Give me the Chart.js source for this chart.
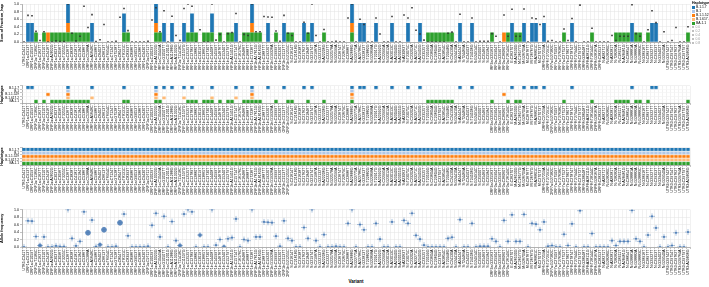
<!DOCTYPE html>
<html><head><meta charset="utf-8">
<script src="https://cdn.jsdelivr.net/npm/chart.js@4"></script>
<style>
body{margin:0;background:#fff;width:709px;height:287px;overflow:hidden;position:relative;font-family:"Liberation Sans",Arial,sans-serif}
.p{position:absolute;left:0}
#xt{position:absolute;left:22px;width:668px;top:279px;text-align:center;font-size:4.5px;font-weight:bold;color:#000}
#lg{position:absolute;left:692px;top:1px;font-size:3.4px;line-height:4px;color:#000}
#lg .t{font-weight:bold;font-size:3.6px}
#lg .r{white-space:nowrap}
#lg .s{display:inline-block;width:3px;height:3px;margin-right:1px;vertical-align:middle}
#lg .g{color:#999}
#lg .c{display:inline-block;width:2px;height:2px;border-radius:50%;background:#aaa;margin-right:1.5px;vertical-align:middle}
</style></head><body>
<div class="p" style="top:0"><canvas id="c1" width="709" height="70"></canvas></div>
<div class="p" style="top:83px"><canvas id="c2" width="709" height="52"></canvas></div>
<div class="p" style="top:145px"><canvas id="c3" width="709" height="50"></canvas></div>
<div class="p" style="top:205px"><canvas id="c4" width="709" height="72"></canvas></div>
<div id="xt">Variant</div>
<div id="lg"></div>
<script>
const variants = ("UTR5:C241T ORF1a:C913T ORF1a:C1059T ORF1a:T1189C ORF1a:C1627T ORF1a:C2110T ORF1a:C2416T ORF1a:A2832G ORF1a:C3037T ORF1a:C3096T " +
"ORF1a:T3255C ORF1a:C3267T ORF1a:C3828T ORF1a:C4181T ORF1a:C5184T ORF1a:C5386T ORF1a:C5388A ORF1a:A5648C ORF1a:C5986T ORF1a:C6402T " +
"ORF1a:C6613T ORF1a:T6954C ORF1a:C7124T ORF1a:G7528T ORF1a:C8047T ORF1a:T8131C ORF1a:C8393T ORF1a:C8986T ORF1a:G9053T ORF1a:C9286T " +
"ORF1a:C9430T ORF1a:C9711T ORF1a:C10029T ORF1a:A10323G ORF1a:C10449A ORF1a:G10507T ORF1a:C11201G ORF1a:A11288G ORF1a:A11332G ORF1a:T11418C " +
"ORF1a:C11537G ORF1a:C12525T ORF1a:C12789T ORF1a:C12880T ORF1a:C13019T ORF1b:C13665T ORF1b:C13730T ORF1b:C14408T ORF1b:C14599T ORF1b:C14676T " +
"ORF1b:C15240T ORF1b:C15279T ORF1b:A15451G ORF1b:C15714T ORF1b:T16176C ORF1b:C16466T ORF1b:C16887T ORF1b:C17236T ORF1b:A17615G ORF1b:A18163G " +
"ORF1b:C18877T ORF1b:C19220T ORF1b:G19326A ORF1b:C19999T ORF1b:C20320T ORF1b:C21137T ORF1b:G21255C S:C21614T S:C21618G S:C21638T " +
"S:C21762T S:C21846T S:G21974T S:C21987A S:G22132T S:A22206G S:C22227T S:G22578A S:G22599A S:C22674T " +
"S:T22679C S:C22686T S:A22688G S:G22775A S:A22786C S:G22813T S:T22882G S:G22898A S:T22917G S:A22992G " +
"S:C22995A S:G23012A S:A23013C S:A23040G S:A23055G S:A23063T S:T23075C S:C23202A S:A23271C S:A23403G " +
"S:C23525T S:T23599G S:C23604A S:C23604G S:C23709T S:A23854C S:T23948G S:C24130A S:G24410A S:A24424T " +
"S:T24469A S:C24503T S:T24506G S:G24914C S:C25000T S:C25469T S:C25584T ORF3a:G25563T ORF3a:C25904T ORF3a:G25907T " +
"ORF3a:C26060T ORF3a:T26149C E:C26270T M:A26530G M:C26577G M:G26709A M:C26767T M:T26767G M:A26801C M:C27073T " +
"ORF6:C27259A ORF6:T27291C ORF7a:G27382C ORF7a:C27509T ORF7a:T27638C ORF7a:C27752T ORF7b:C27807T ORF8:C27874T ORF8:T27944C ORF8:C27972T " +
"ORF8:G28048T ORF8:A28111G ORF8:T28144C ORF8:G28167A ORF8:C28253T N:A28271T N:G28280C N:A28281T N:T28282A N:C28311T " +
"N:A28461G N:C28854T N:G28881A N:G28882A N:G28883C N:G28916T N:C28977T N:G29227T N:C29353T N:G29402T " +
"N:G29540A UTR3:G29742T UTR3:C29754T UTR3:C29762T UTR3:G29764A UTR3:C29779T UTR3:A29836G").split(" ");

const haplotypes = ["B.1.1.7", "B.1", "B.1.1.529", "B.1.617.2", "BA.1.1"];
const hapCodes = ["B", "b", "O", "o", "G"];
const hapColors = ["#1f77b4", "#aec7e8", "#ff7f0e", "#ffbb78", "#2ca02c"];
const hapFraction = [0.5, 0, 0.25, 0, 0.25];

// haplotypes carrying each variant (codes above)
const membership = [
"","B","B","G","","G","O","G","G","G",
"G","BbOoG","G","G","G","G","G","Bo","","",
"","","","","","BG","G","","","",
"","","","BbOoG","G","Bo","","B","","",
"Bo","G","BG","G","","G","G","BGo","","G",
"","G","G","Bo","","G","G","BbOoG","G","G",
"","B","","G","","B","G","G","","",
"B","G","B","","","G","","","","",
"","","BbOoG","","B","B","","","B","",
"","","B","","","","B","","","B",
"","G","G","G","G","G","G","G","","B",
"","","B","","","","","G","","",
"O","G","B","G","G","B","","B","B","",
"B","","","","","G","","B","","",
"","","G","","","","","","G","G",
"G","G","B","G","G","","G","B","B","",
"","","","","","","G"];

const alleleFreq = [
0.00,0.70,0.69,0.28,0.04,0.27,0.00,0.00,0.03,0.01,
0.01,1.00,0.23,0.03,0.15,0.94,0.38,0.72,0.01,0.06,
0.46,0.00,0.00,0.02,0.65,0.88,0.30,0.00,0.00,0.00,
0.00,0.02,0.58,0.90,0.27,0.82,0.00,0.68,0.17,0.04,
0.88,1.00,0.94,0.00,0.32,0.00,0.00,1.00,0.05,0.20,
0.00,0.22,0.25,0.75,0.00,0.20,0.17,1.00,0.27,0.27,
0.67,0.66,0.65,0.29,0.02,0.70,0.23,0.17,0.00,0.00,
0.52,0.23,1.00,0.17,0.00,0.33,0.00,0.00,0.02,0.00,
0.00,0.63,1.00,0.00,0.60,0.46,0.00,0.00,0.63,0.21,
0.00,0.00,0.67,0.00,0.00,0.71,0.63,0.90,0.31,0.21,
0.05,0.00,0.00,0.00,0.00,0.00,0.23,0.26,0.00,0.73,
0.00,0.00,0.63,0.00,0.02,0.02,0.02,0.22,0.15,0.00,
0.71,0.15,0.86,0.15,0.15,0.87,0.00,0.63,0.61,0.46,
0.67,0.02,0.04,0.00,0.00,0.34,0.04,0.62,0.00,0.97,
0.00,0.00,0.36,0.00,0.00,0.00,0.00,0.17,0.04,0.15,
0.15,0.15,0.98,0.22,0.15,0.00,0.32,0.82,0.51,0.00,
0.27,0.00,0.04,0.38,0.00,0.00,0.40];

// relative read depth weight per variant (circle size in allele-frequency panel)
const depthWeight = [
1,1,1,1,2,1,1,1,1,1,
1,1,1,1,1,1,3,1,1,2,
3,1,1,1,3,1,1,1,1,1,
1,1,1,1,1,1,1,1,1,2,
1,1,1,1,2,1,1,1,1,1,
2,1,1,1,1,1,1,1,1,1,
1,1,1,1,1,1,1,1,1,1,
1,1,1,1,1,1,1,1,1,1,
1,1,1,1,1,1,1,1,1,1,
1,1,1,1,1,1,1,1,1,1,
1,1,1,1,1,1,1,1,1,1,
1,1,1,1,1,1,1,1,1,1,
1,1,1,1,1,1,1,1,1,1,
1,1,1,1,1,1,1,1,1,1,
1,1,1,1,1,1,1,1,1,1,
1,1,1,1,1,1,1,1,1,1,
1,1,1,1,1,1,1];

const legendSizes = ["0.0", "0.2", "0.4", "0.6", "0.8"];

Chart.defaults.font.family = '"Liberation Sans", Arial, sans-serif';
Chart.defaults.font.size = 3.6;
Chart.defaults.color = '#000';
Chart.defaults.animation = false;

const Y_W = 22, PAD_R = 19;
const fixW = s => { s.width = Y_W; };
const fixH = h => s => { s.height = h; };
const gridCol = '#e2e2e2';

function xAxis(h) {
  return {
    type: 'category', labels: variants, offset: true,
    grid: { color: gridCol, lineWidth: 0.5, offset: true, drawTicks: true, tickLength: 2, tickColor: '#888' },
    border: { color: '#888', width: 0.6 },
    ticks: { autoSkip: false, minRotation: 90, maxRotation: 90, padding: 0.5, font: { size: 3.6 } },
    afterFit: fixH(h)
  };
}
const baseOpts = {
  responsive: false, devicePixelRatio: 1, maintainAspectRatio: false,
  layout: { padding: { left: 0, right: PAD_R, top: 1, bottom: 0 } },
  plugins: { legend: { display: false }, tooltip: { enabled: false } }
};

// Panel 1: stacked fractions + observed frequency
const stackOrder = [4, 3, 2, 1, 0];
const ds1 = stackOrder.map(h => ({
  type: 'bar', label: haplotypes[h],
  data: membership.map(m => m.includes(hapCodes[h]) ? hapFraction[h] : 0),
  backgroundColor: hapColors[h], borderWidth: 0, order: 1,
  barPercentage: 0.92, categoryPercentage: 1, yAxisID: 'y', stack: 's'
}));
ds1.push({
  type: 'line', label: 'freq', data: alleleFreq, showLine: false, yAxisID: 'yp',
  pointStyle: 'rect', pointRadius: 1.1, pointBackgroundColor: '#333', pointBorderWidth: 0, order: 0
});
new Chart(document.getElementById('c1'), {
  type: 'bar',
  data: { labels: variants, datasets: ds1 },
  options: Object.assign({}, baseOpts, {
    scales: {
      x: Object.assign(xAxis(28), { stacked: true }),
      y: {
        stacked: true, min: 0, max: 1,
        ticks: { stepSize: 0.2, callback: v => v.toFixed(1), padding: 1 },
        grid: { color: gridCol, lineWidth: 0.5, tickLength: 2, tickColor: '#888' },
        border: { color: '#888', width: 0.6 },
        title: { display: true, text: 'Sum of Fraction_hap', font: { size: 3.8, weight: 'bold' }, padding: 0 },
        afterFit: fixW
      },
      yp: { display: false, min: 0, max: 1 }
    }
  })
});

// Heatmap panels
function heat(id, present, xh) {
  const ds = stackOrder.map(h => ({
    label: haplotypes[h],
    data: variants.map(() => 1),
    backgroundColor: membership.map((m, i) => present(m, h) ? hapColors[h] : 'rgba(0,0,0,0)'),
    borderWidth: 0, inflateAmount: 0,
    barPercentage: 0.84, categoryPercentage: 1
  }));
  new Chart(document.getElementById(id), {
    type: 'bar',
    data: { labels: variants, datasets: ds },
    options: Object.assign({}, baseOpts, {
      layout: { padding: { left: 0, right: PAD_R, top: 0, bottom: 0 } },
      scales: {
        x: Object.assign(xAxis(xh), { stacked: true }),
        y: { stacked: true, min: 0, max: 5, display: false },
        yc: {
          type: 'category', labels: haplotypes, position: 'left', offset: true,
          grid: { color: gridCol, lineWidth: 0.5, offset: true, tickLength: 2, tickColor: '#888' },
          border: { color: '#888', width: 0.6 },
          ticks: { padding: 1, autoSkip: false, font: { size: 3.2 } },
          title: { display: true, text: 'Haplotype', font: { size: 3.8, weight: 'bold' }, padding: 0 },
          afterFit: fixW
        }
      }
    }),
    plugins: [{
      id: 'rowGaps',
      afterDatasetsDraw(chart) {
        const { ctx, chartArea: a } = chart;
        ctx.save(); ctx.strokeStyle = '#ffffff'; ctx.lineWidth = 0.6;
        for (let r = 1; r < 5; r++) {
          const y = a.top + (a.bottom - a.top) * r / 5;
          ctx.beginPath(); ctx.moveTo(a.left, y); ctx.lineTo(a.right, y); ctx.stroke();
        }
        ctx.restore();
      }
    }]
  });
}
heat('c2', (m, h) => m.includes(hapCodes[h]), 32);
heat('c3', (m, h) => true, 30);

// Panel 4: allele frequency
new Chart(document.getElementById('c4'), {
  type: 'line',
  data: {
    labels: variants,
    datasets: [
      { data: alleleFreq, showLine: false, pointStyle: 'circle',
        pointRadius: depthWeight.map(w => 0.3 + 0.8 * w), pointBackgroundColor: 'rgba(70,120,180,0.85)',
        pointBorderWidth: 0, order: 0 },
      { data: alleleFreq, showLine: false, pointStyle: 'cross', pointRadius: 3,
        pointBorderColor: 'rgba(70,120,180,0.75)', pointBorderWidth: 0.6, order: 1 }
    ]
  },
  options: Object.assign({}, baseOpts, {
    layout: { padding: { left: 0, right: PAD_R, top: 2, bottom: 0 } },
    scales: {
      x: xAxis(30),
      y: {
        min: 0, max: 1,
        ticks: { stepSize: 0.2, callback: v => v.toFixed(1), padding: 1 },
        grid: { color: gridCol, lineWidth: 0.5, tickLength: 2, tickColor: '#888' },
        border: { color: '#888', width: 0.6 },
        title: { display: true, text: 'Allele frequency', font: { size: 3.8, weight: 'bold' }, padding: 0 },
        afterFit: fixW
      }
    }
  })
});

// Legend
const lg = document.getElementById('lg');
let html = '<div class="t">Haplotype</div>';
haplotypes.forEach((h, i) => { html += '<div class="r"><span class="s" style="background:' + hapColors[i] + '"></span>' + h + '</div>'; });
legendSizes.forEach(s => { html += '<div class="r g"><span class="c"></span>' + s + '</div>'; });
lg.innerHTML = html;
</script>
</body></html>
